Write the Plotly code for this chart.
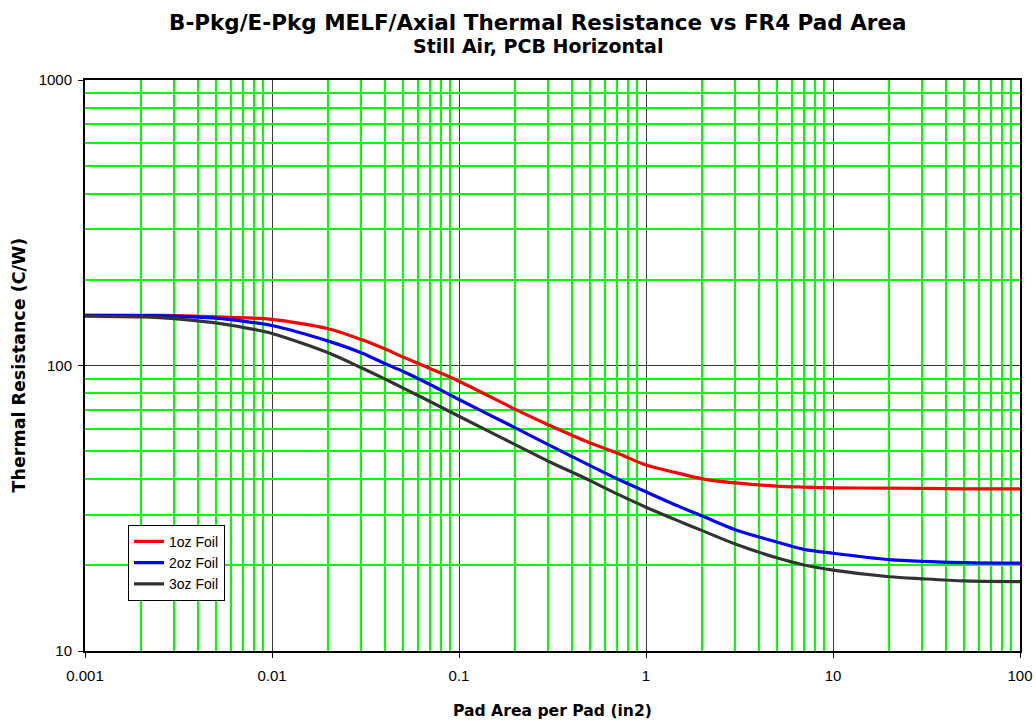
import plotly.graph_objects as go

pad_area = [0.001, 0.002, 0.003, 0.005, 0.007, 0.01, 0.02, 0.03, 0.04, 0.05, 0.07, 0.1,
            0.2, 0.3, 0.5, 0.7, 1, 1.5, 2, 3, 5, 7, 10, 20, 30, 50, 100]
oz1 = [150, 150, 149.5, 148, 147, 145, 134.5, 123.3, 114.4, 107.2, 97.6, 88.1,
       70.2, 62.0, 53.6, 49.4, 44.8, 41.9, 40.1, 38.8, 37.8, 37.5, 37.3, 37.2, 37.1, 37.0, 37.0]
oz2 = [150, 149.5, 149, 146.5, 143, 138, 121.7, 110.8, 101.6, 95.5, 85.8, 76.0,
       60.5, 52.8, 44.7, 40.1, 36.1, 32.1, 29.7, 26.6, 24.1, 22.7, 22.0, 20.9, 20.6, 20.4, 20.3]
oz3 = [149, 148, 146, 141, 136, 129.5, 110.8, 98.2, 89.8, 83.5, 74.8, 66.4,
       52.8, 46.2, 39.6, 35.5, 31.9, 28.5, 26.4, 23.7, 21.2, 20.0, 19.2, 18.2, 17.9, 17.6, 17.5]

series = [("1oz Foil", oz1, "#FF0000"), ("2oz Foil", oz2, "#0000FF"), ("3oz Foil", oz3, "#333333")]

x_major = [0.001, 0.01, 0.1, 1, 10, 100]
x_labels = ["0.001", "0.01", "0.1", "1", "10", "100"]
y_major = [10, 100, 1000]
y_labels = ["10", "100", "1000"]

x_minor = [m * d for d in [0.001, 0.01, 0.1, 1, 10] for m in range(2, 10)]
y_minor = [m * d for d in [10, 100] for m in range(2, 10)]

FONT = "Liberation Sans, Arial, sans-serif"
BOLD = "DejaVu Sans, Liberation Sans, sans-serif"
GREEN = "#00FF00"
fig = go.Figure()
# invisible helper trace so the minor-grid overlay axes are drawn
fig.add_trace(go.Scatter(x=pad_area, y=oz1, xaxis="x2", yaxis="y2", mode="lines",
                         line=dict(width=0), opacity=0, showlegend=False, hoverinfo="skip"))
for name, vals, col in series:
    fig.add_trace(go.Scatter(x=pad_area, y=vals, name=name, mode="lines",
                             line=dict(color=col, width=3.2, shape="spline", smoothing=0.8)))

fig.update_layout(
    width=1036, height=721,
    margin=dict(l=85, r=16, t=80, b=70),
    paper_bgcolor="white", plot_bgcolor="white",
    font=dict(family=FONT, size=15, color="black"),
    showlegend=True,
    legend=dict(x=0.046, y=0.221, xanchor="left", yanchor="top",
                bgcolor="white", bordercolor="black", borderwidth=1,
                font=dict(size=14, family=FONT), tracegroupgap=0, itemwidth=30),
    annotations=[
        dict(text="<b>B-Pkg/E-Pkg MELF/Axial Thermal Resistance vs FR4 Pad Area</b>",
             xref="paper", yref="paper", x=0.485, y=1, yshift=58, xanchor="center", yanchor="middle",
             showarrow=False, font=dict(size=21.5, family=BOLD)),
        dict(text="<b>Still Air, PCB Horizontal</b>",
             xref="paper", yref="paper", x=0.485, y=1, yshift=34, xanchor="center", yanchor="middle",
             showarrow=False, font=dict(size=19, family=BOLD)),
        dict(text="<b>Pad Area per Pad (in2)</b>",
             xref="paper", yref="paper", x=0.5, y=0, yshift=-60, xanchor="center", yanchor="middle",
             showarrow=False, font=dict(size=15.6, family=BOLD)),
        dict(text="<b>Thermal Resistance (C/W)</b>", textangle=-90,
             xref="paper", yref="paper", x=0, xshift=-67, y=0.5, xanchor="center", yanchor="middle",
             showarrow=False, font=dict(size=17.5, family=BOLD)),
    ],
    xaxis=dict(type="log", range=[-3, 2], tickvals=x_major, ticktext=x_labels,
               ticks="outside", ticklen=5, tickcolor="black", automargin=False,
               showline=True, linecolor="black", linewidth=2, mirror=True,
               showgrid=True, gridcolor="#3a3a3a", gridwidth=1, zeroline=False,
               ticklabelstandoff=5, tickfont=dict(size=15, family=FONT)),
    yaxis=dict(type="log", range=[1, 3], tickvals=y_major, ticktext=y_labels,
               ticks="outside", ticklen=5, tickcolor="black", automargin=False,
               showline=True, linecolor="black", linewidth=2, mirror=True,
               showgrid=True, gridcolor="#3a3a3a", gridwidth=1, zeroline=False,
               ticklabelstandoff=3, tickfont=dict(size=15, family=FONT)),
    xaxis2=dict(type="log", range=[-3, 2], overlaying="x", anchor="y2", tickvals=x_minor,
                showticklabels=False, ticks="", showline=False, zeroline=False,
                showgrid=True, gridcolor=GREEN, gridwidth=1.5, automargin=False),
    yaxis2=dict(type="log", range=[1, 3], overlaying="y", anchor="x2", tickvals=y_minor,
                showticklabels=False, ticks="", showline=False, zeroline=False,
                showgrid=True, gridcolor=GREEN, gridwidth=1.5, automargin=False),
)

fig.write_html("out.html", config={"displayModeBar": False},
               post_script="document.body.style.margin='0';document.body.style.overflow='hidden';")
